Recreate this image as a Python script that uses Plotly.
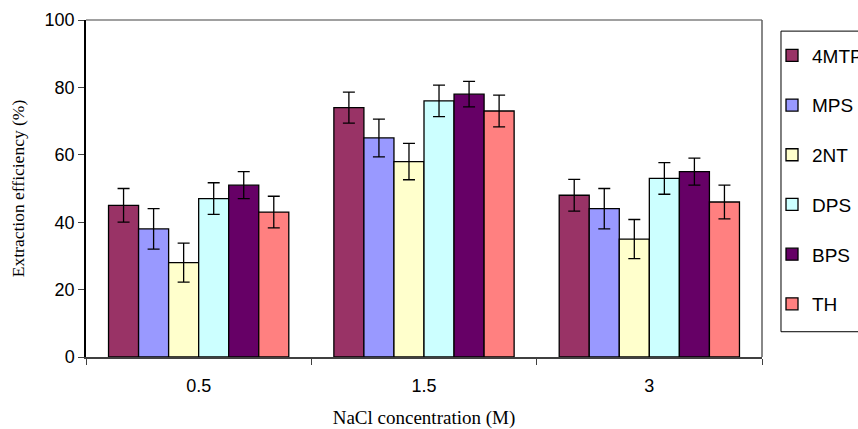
import plotly.graph_objects as go

categories = ["0.5", "1.5", "3"]
series_names = ["4MTP", "MPS", "2NT", "DPS", "BPS", "TH"]
values = {
    "4MTP": [45, 74, 48],
    "MPS": [38, 65, 44],
    "2NT": [28, 58, 35],
    "DPS": [47, 76, 53],
    "BPS": [51, 78, 55],
    "TH": [43, 73, 46],
}
errors = {
    "4MTP": [5, 4.6, 4.7],
    "MPS": [6, 5.6, 6],
    "2NT": [5.8, 5.4, 5.8],
    "DPS": [4.7, 4.7, 4.7],
    "BPS": [4, 3.8, 4],
    "TH": [4.7, 4.7, 5],
}
colors = {
    "4MTP": "#993366",
    "MPS": "#9999FF",
    "2NT": "#FFFFCC",
    "DPS": "#CCFFFF",
    "BPS": "#660066",
    "TH": "#FF8080",
}

fig = go.Figure()
for name in series_names:
    fig.add_trace(go.Bar(
        name=name,
        x=categories,
        y=values[name],
        legendgroup=name,
        marker=dict(color=colors[name], line=dict(color="black", width=1.3)),
        error_y=dict(type="data", array=errors[name], visible=True,
                     color="black", thickness=1.3, width=6),
    ))

fig.update_layout(
    width=858, height=429,
    margin=dict(l=86, r=96, t=20, b=72, autoexpand=False),
    paper_bgcolor="white", plot_bgcolor="white",
    barmode="group", bargap=0.2, bargroupgap=0,
    font=dict(family="Arial, Liberation Sans, sans-serif", size=18, color="black"),
    showlegend=True,
    legend=dict(
        x=1.0148, xanchor="left", y=0.951, yanchor="top",
        bgcolor="rgba(0,0,0,0)", borderwidth=0,
        font=dict(family="Arial, Liberation Sans, sans-serif", size=19, color="black"),
        tracegroupgap=22, itemwidth=30, traceorder="grouped",
    ),
    xaxis=dict(
        type="category",
        showline=True, linecolor="#404040", linewidth=1.5,
        ticks="outside", tickson="boundaries", ticklen=6, tickcolor="#404040",
        tickfont=dict(size=18), ticklabelstandoff=12,
        title=dict(text="NaCl concentration (M)",
                   font=dict(family="Liberation Serif, Times New Roman, serif", size=19),
                   standoff=24),
        showgrid=False,
    ),
    yaxis=dict(
        range=[0, 100], dtick=20,
        showline=True, linecolor="black", linewidth=1.5,
        ticks="outside", ticklen=6, tickcolor="#404040",
        tickfont=dict(size=18),
        title=dict(text="Extraction efficiency (%)",
                   font=dict(family="Liberation Serif, Times New Roman, serif", size=17.5),
                   standoff=15),
        showgrid=False, zeroline=False,
    ),
    shapes=[
        dict(type="line", xref="paper", yref="paper", x0=0, x1=1, y0=1, y1=1,
             line=dict(color="#808080", width=1.5)),
        dict(type="line", xref="paper", yref="paper", x0=1, x1=1, y0=0, y1=1,
             line=dict(color="#606060", width=1.5)),
        dict(type="rect", xref="paper", yref="paper", x0=1.0281, x1=1.2, y0=0.075, y1=0.967,
             line=dict(color="black", width=1), fillcolor="rgba(0,0,0,0)", layer="below"),
    ],
)

fig.write_html("out.html")
